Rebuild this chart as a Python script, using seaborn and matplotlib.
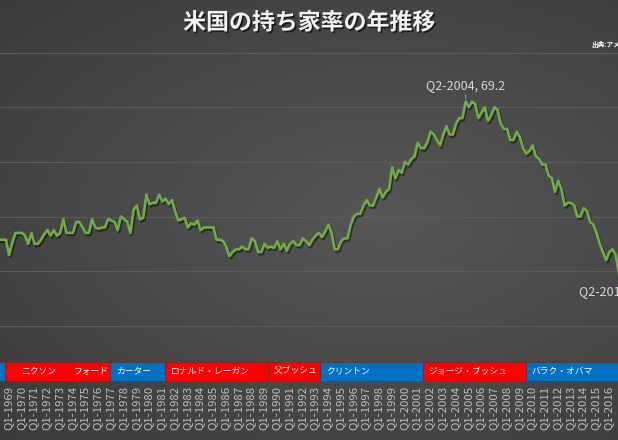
import numpy as np
import pandas as pd
import seaborn as sns
import matplotlib.pyplot as plt
import matplotlib.patheffects as pe
from matplotlib.patches import Rectangle
from matplotlib.transforms import ScaledTranslation

plt.rcParams['font.family'] = ['Noto Sans CJK JP', 'DejaVu Sans']

# 持ち家率 (%), Q4-1967 ～ Q2-2016
rate = [
    64.15,
    64.15, 64.15, 63.6, 64.05,   # 1968
    64.4, 64.4, 64.4, 64.3,      # 1969
    64.0, 64.4, 64.0, 64.0,      # 1970
    64.15, 64.35, 64.5, 64.3,    # 1971
    64.5, 64.3, 64.4, 64.9,      # 1972
    64.4, 64.4, 64.4, 64.8,      # 1973
    64.8, 64.6, 64.4, 64.4,      # 1974
    64.9, 64.6, 64.55, 64.6,     # 1975
    64.6, 64.9, 64.85, 64.8,     # 1976
    64.5, 65.0, 64.9, 64.8,      # 1977
    64.4, 65.25, 65.4, 64.9,     # 1978
    64.95, 65.8, 65.45, 65.5,    # 1979
    65.5, 65.8, 65.55, 65.65,    # 1980
    65.45, 65.6, 65.2, 64.85,    # 1981
    64.9, 64.95, 64.6, 64.75,    # 1982
    64.7, 64.85, 64.5, 64.6,     # 1983
    64.6, 64.6, 64.6, 64.15,     # 1984
    64.15, 64.1, 63.9, 63.55,    # 1985
    63.7, 63.8, 63.8, 63.9,      # 1986
    63.8, 63.8, 64.2, 64.1,      # 1987
    63.7, 63.7, 64.0, 63.85,     # 1988
    63.9, 63.85, 64.1, 63.8,     # 1989
    64.0, 63.75, 64.0, 64.1,     # 1990
    63.95, 63.95, 64.2, 64.1,    # 1991
    63.95, 64.15, 64.3, 64.4,    # 1992
    64.25, 64.45, 64.7, 64.4,    # 1993
    63.8, 63.8, 64.1, 64.2,      # 1994
    64.2, 64.7, 65.0, 65.1,      # 1995
    65.1, 65.4, 65.6, 65.4,      # 1996
    65.4, 65.7, 66.0, 65.7,      # 1997
    65.9, 66.0, 66.8, 66.4,      # 1998
    66.7, 66.6, 67.0, 66.9,      # 1999
    67.1, 67.2, 67.7, 67.5,      # 2000
    67.5, 67.7, 68.1, 68.0,      # 2001
    67.8, 67.6, 68.0, 68.3,      # 2002
    68.0, 68.0, 68.4, 68.6,      # 2003
    68.6, 69.2, 69.0, 69.2,      # 2004
    69.1, 68.6, 68.8, 69.0,      # 2005
    68.5, 68.7, 69.0, 68.9,      # 2006
    68.4, 68.2, 68.2, 67.8,      # 2007
    67.8, 68.1, 67.9, 67.5,      # 2008
    67.3, 67.4, 67.6, 67.2,      # 2009
    67.1, 66.9, 66.9, 66.5,      # 2010
    66.4, 65.9, 66.3, 66.0,      # 2011
    65.4, 65.5, 65.5, 65.4,      # 2012
    65.0, 65.0, 65.3, 65.2,      # 2013
    64.8, 64.7, 64.4, 64.0,      # 2014
    63.7, 63.4, 63.7, 63.8,      # 2015
    63.6, 62.9,                  # 2016
]

# 期間ラベル (Q4-1967 から)
periods = []
yr, qt = 1967, 4
for _ in rate:
    periods.append(f"Q{qt}-{yr}")
    qt += 1
    if qt > 4:
        qt, yr = 1, yr + 1

# 大統領の任期 (帯の区切り, 年)
presidents = ["ジョンソン", "ニクソン", "フォード", "カーター", "ロナルド・レーガン",
              "父ブッシュ", "クリントン", "ジョージ・ブッシュ", "バラク・オバマ"]
term_start = [1963.9, 1968.2, 1973.5, 1976.4, 1980.7, 1988.8, 1992.85, 2000.9, 2008.95]
term_end = 2017.0
party = ["D", "R", "R", "D", "R", "R", "D", "R", "D"]
label_align = ["left", "center", "center", "left", "left", "left", "left", "left", "left"]

notes = ["Q2-2004", "Q2-2016"]

party_color = {"D": "#0070C0", "R": "#FF0000"}
line_color = "#70AD47"


def year_to_idx(y):
    # Q4-1967 を 0 とする四半期インデックス
    return (y - 1967.75) * 4


df = pd.DataFrame({"idx": np.arange(len(rate)), "rate": rate, "period": periods})

W, H = 618, 440
fig = plt.figure(figsize=(W / 100, H / 100), dpi=100)

# 背景グラデーション
bg = fig.add_axes([0, 0, 1, 1])
gx, gy = np.meshgrid(np.linspace(0, 1, 300), np.linspace(0, 1, 220))
r = np.sqrt(((gx - 0.62) / 0.9) ** 2 + ((gy - 0.5) / 0.75) ** 2)
r = np.clip(r, 0, 1)
c0, c1 = np.array([0x57, 0x57, 0x57]) / 255, np.array([0x3a, 0x3a, 0x3a]) / 255
img = c0[None, None, :] * (1 - r[..., None]) + c1[None, None, :] * r[..., None]
bg.imshow(img, extent=[0, 1, 0, 1], aspect="auto", origin="upper")
bg.axis("off")

ax = fig.add_axes([0, 1 - 380.5 / H, 1, 328 / H])
ax.patch.set_alpha(0)
ax.set_xlim(0.14, 193.72)
ax.set_ylim(59, 71)

for v in [61, 63, 65, 67, 69, 71]:
    ax.axhline(v, color="#5c5c5c", lw=0.8, zorder=1, clip_on=False)

sns.lineplot(data=df, x="idx", y="rate", ax=ax, color=line_color, lw=1.9, zorder=3,
             path_effects=[pe.SimpleLineShadow(offset=(1, -1.5), shadow_color="black", alpha=0.45),
                           pe.Normal()])

ax.set_xlim(0.14, 193.72)
ax.set_ylim(59, 71)

# 大統領の帯
ends = term_start[1:] + [term_end]
band_top = 59.68
x_left = ax.get_xlim()[0]
for name, s, e, p, al in zip(presidents, term_start, ends, party, label_align):
    x0, x1 = year_to_idx(s), year_to_idx(e)
    ax.add_patch(Rectangle((x0, 59), x1 - x0, band_top - 59, facecolor=party_color[p],
                           edgecolor="#6a2a2a", lw=0.5, zorder=4))
    tx = (x0 + x1) / 2 if al == "center" else x0 + 1.8
    if tx < x_left:
        continue  # 表示範囲外の名前
    ax.text(tx, (59 + band_top) / 2, name, color="white", fontsize=6.3, ha=al,
            va="center", zorder=5, clip_on=True)

# x 軸ラベル
tick_idx = [i for i, p in enumerate(periods) if p.startswith("Q1") and int(p[3:]) >= 1969]
ax.set_xticks(tick_idx)
ax.set_xticklabels([periods[i] for i in tick_idx], rotation=90, fontsize=8.2, color="#BFBFBF",
                   va="top", ha="center")
ax.tick_params(axis="x", length=0, pad=4)
shift = ScaledTranslation(-7.2 / 100, 0, fig.dpi_scale_trans)
for lab in ax.get_xticklabels():
    lab.set_transform(lab.get_transform() + shift)
ax.set_yticks([])
ax.set_xlabel("")
ax.set_ylabel("")
for sp in ax.spines.values():
    sp.set_visible(False)

# 注記
i_peak = periods.index(notes[0])
ax.annotate(f"{notes[0]}, {rate[i_peak]}", xy=(i_peak, rate[i_peak]), xytext=(0, 16),
            textcoords="offset pixels", ha="center", va="center", fontsize=9, color="#D9D9D9",
            arrowprops=dict(arrowstyle="-", color="#9A9A9A", lw=0.8, shrinkA=0, shrinkB=2),
            zorder=6, annotation_clip=False)
i_last = periods.index(notes[1])
ax.annotate(f"{notes[1]}, {rate[i_last]}", xy=(i_last, rate[i_last]), xytext=(0, -18),
            textcoords="offset pixels", ha="center", va="center", fontsize=9, color="#D9D9D9",
            zorder=6, annotation_clip=False)

fig.text(309 / W, 1 - 23 / H, "米国の持ち家率の年推移", ha="center", va="center",
         fontsize=16.5, color="#F2F2F2", weight="bold",
         path_effects=[pe.SimplePatchShadow(offset=(1.2, -1.2), shadow_rgbFace="black", alpha=0.6),
                       pe.Normal()])
fig.text(591 / W, 1 - 44 / H, "出典:アメリカ合衆国国勢調査局", ha="left", va="center",
         fontsize=4.8, color="white", weight="bold")

fig.savefig("out.png", dpi=100)
